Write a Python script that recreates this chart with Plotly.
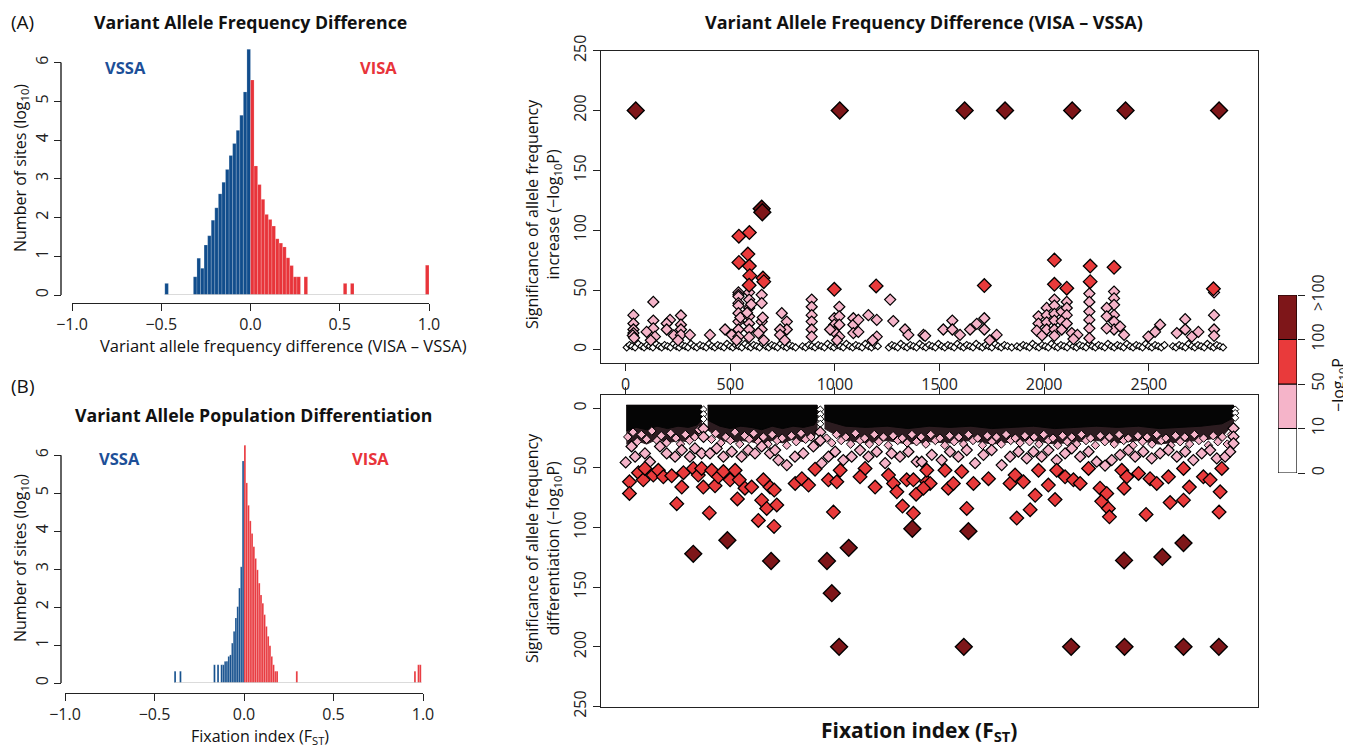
import plotly.graph_objects as go

W, H = 1351, 745
OFF = 8  # page body margin that the browser adds around the figure
def fx(p): return (p - OFF) / W
def fy(p): return 1 - (p - OFF) / H

FONT = "Open Sans"
BLUE = "#114d8c"
RED_BAR = "#e8343a"
DARK = "#7e1619"
RED = "#e93a3b"
PINK = "#f5b4c9"

# ---------------- Histogram A : allele frequency difference ----------------
hist_a_width = 0.02
hist_a_blue_x = [-0.47, -0.31, -0.29, -0.27, -0.25, -0.23, -0.21, -0.19, -0.17,
                 -0.15, -0.13, -0.11, -0.09, -0.07, -0.05, -0.03, -0.01]
hist_a_blue_y = [0.30, 0.47, 0.95, 0.69, 1.29, 1.53, 1.93, 2.25, 2.61,
                 2.91, 3.24, 3.60, 3.91, 4.25, 4.64, 5.24, 6.34]
hist_a_red_x = [0.01, 0.03, 0.05, 0.07, 0.09, 0.11, 0.13, 0.15, 0.17, 0.19,
                0.21, 0.23, 0.25, 0.27, 0.31, 0.53, 0.57, 0.99]
hist_a_red_y = [5.55, 3.33, 2.85, 2.47, 2.08, 1.95, 1.78, 1.45, 1.34, 1.24,
                0.96, 0.76, 0.47, 0.47, 0.47, 0.30, 0.30, 0.77]

# ---------------- Histogram B : fixation index ----------------
hist_b_width = 0.01
hist_b_blue_x = [-0.385, -0.355, -0.165, -0.145, -0.125, -0.115, -0.105, -0.095,
                 -0.085, -0.075, -0.065, -0.055, -0.045, -0.035, -0.025, -0.015, -0.005]
hist_b_blue_y = [0.31, 0.31, 0.48, 0.48, 0.48, 0.48, 0.57, 0.57,
                 0.70, 0.74, 1.05, 1.36, 1.71, 2.01, 2.50, 3.06, 5.85]
hist_b_red_x = [0.005, 0.015, 0.025, 0.035, 0.045, 0.055, 0.065, 0.075, 0.085, 0.095,
                0.105, 0.115, 0.125, 0.135, 0.145, 0.155, 0.165, 0.175, 0.185,
                0.295, 0.955, 0.975, 0.985]
hist_b_red_y = [6.26, 5.27, 4.68, 4.27, 3.94, 3.59, 3.28, 2.98, 2.63, 2.32,
                2.10, 1.80, 1.49, 1.23, 0.98, 0.70, 0.48, 0.31, 0.31,
                0.31, 0.31, 0.48, 0.48]

hist_x_ticks = [-1.0, -0.5, 0.0, 0.5, 1.0]
hist_x_labels = ["\u22121.0", "\u22120.5", "0.0", "0.5", "1.0"]
hist_y_ticks = [0, 1, 2, 3, 4, 5, 6]

# ---------------- Top scatter: significance of increase ----------------
top_dark = [(48, 200), (650, 118), (653, 115), (1023, 200), (1620, 200), (1813, 200),
            (2134, 200), (2389, 200), (2836, 200)]
top_red = [(541, 95), (591, 98), (541, 73), (584, 80), (591, 70), (593, 62), (590, 54),
           (656, 60), (660, 57), (997, 50.6), (1197, 53.4), (1714, 53.7), (2049, 75),
           (2049, 54.8), (2108, 51.5), (2220, 70), (2220, 57), (2334, 69), (2809, 51)]
top_pink = [(37, 29), (37, 22), (37, 17), (37, 14), (34, 12), (40, 10),
            (132, 40), (132, 24.5), (132, 18), (100, 15), (140, 11), (120, 8),
            (212, 25), (196, 22), (196, 17), (230, 12),
            (264, 28.7), (264, 21), (264, 17), (264, 12.5), (250, 8),
            (307, 12.5), (403, 12.5), (475, 17), (507, 12.5),
            (539, 48), (539, 46), (539, 44.5), (539, 39), (539, 37), (539, 30.6),
            (539, 23.6), (539, 17), (539, 11), (548, 27), (530, 8),
            (590, 48), (590, 42), (590, 35), (590, 28), (590, 22), (590, 17),
            (590, 10.6), (600, 38), (580, 31),
            (650, 46), (650, 39), (650, 23.6), (650, 17), (634, 14), (655, 27), (660, 8),
            (746, 30.6), (770, 23.6), (770, 17), (738, 17), (738, 12.5), (760, 8),
            (889, 42), (889, 36), (889, 29), (889, 23.6), (889, 17), (889, 11),
            (997, 26.4), (997, 21), (997, 15), (977, 17), (1021, 36), (1021, 28),
            (1021, 21), (1021, 11), (1010, 8),
            (1088, 26.4), (1088, 21), (1088, 14), (1112, 25), (1112, 15), (1160, 29),
            (1200, 25), (1200, 11), (1180, 8),
            (1264, 42), (1279, 24), (1335, 17), (1351, 12.5), (1423, 12.5),
            (1431, 11.7), (1518, 17), (1561, 24.5), (1561, 17), (1598, 12.5), (1646, 17),
            (1678, 21.7), (1714, 26.4), (1714, 17), (1773, 12.5), (1740, 8),
            (1973, 28), (1973, 22), (1965, 16), (1990, 12), (2012, 35), (2012, 29),
            (2012, 23), (2012, 17), (2049, 42), (2049, 37), (2049, 30), (2049, 24.5),
            (2049, 17), (2049, 11.7), (2084, 32), (2084, 24), (2084, 17), (2108, 40),
            (2108, 35), (2108, 29), (2108, 22), (2132, 14), (2159, 12.5), (2140, 9),
            (2216, 47), (2216, 40), (2216, 32), (2216, 25), (2216, 18), (2216, 9.7),
            (2334, 48.7), (2334, 43), (2334, 37.6), (2334, 29), (2334, 23.6), (2334, 17),
            (2299, 35), (2299, 28), (2299, 18), (2363, 19.5), (2382, 12.5),
            (2498, 11), (2530, 15), (2554, 21), (2634, 14), (2674, 25.6), (2674, 17),
            (2706, 11), (2737, 15), (2812, 48), (2812, 29), (2812, 17), (2812, 11.7)]
top_white = [(5, 2), (18, 4), (30, 3), (45, 2), (60, 5), (75, 3), (88, 2), (102, 4),
             (115, 3), (130, 2), (145, 5), (160, 3), (172, 2), (186, 4), (200, 3),
             (214, 2), (228, 5), (242, 3), (256, 2), (270, 4), (284, 3), (298, 2),
             (312, 5), (326, 3), (340, 2), (355, 4), (370, 3), (385, 2), (398, 5),
             (412, 3), (426, 2), (440, 4), (455, 3), (470, 2), (484, 5), (498, 3),
             (512, 2), (526, 4), (540, 3), (555, 2), (570, 5), (584, 3), (598, 2),
             (612, 4), (626, 3), (640, 2), (655, 5), (670, 3), (684, 2), (698, 4),
             (712, 3), (726, 2), (740, 5), (755, 3), (770, 2), (784, 4), (798, 3),
             (812, 2), (845, 3), (860, 2), (875, 4), (890, 3), (905, 2), (920, 4),
             (935, 3), (950, 2), (965, 5), (980, 3), (995, 2), (1010, 4), (1025, 3),
             (1040, 2), (1055, 5), (1070, 3), (1085, 2), (1100, 4), (1115, 3),
             (1130, 2), (1145, 5), (1160, 3), (1175, 2), (1190, 4), (1205, 3),
             (1258, 2), (1272, 4), (1286, 3), (1300, 2), (1315, 5), (1330, 3),
             (1345, 2), (1360, 4), (1375, 3), (1390, 2), (1405, 5), (1420, 3),
             (1435, 2), (1450, 4), (1465, 3), (1480, 2), (1495, 5), (1510, 3),
             (1525, 2), (1540, 4), (1555, 3), (1570, 2), (1585, 5), (1600, 3),
             (1615, 2), (1630, 4), (1645, 3), (1660, 2), (1675, 5), (1690, 3),
             (1705, 2), (1720, 4), (1735, 3), (1750, 2), (1765, 5), (1780, 3),
             (1795, 2), (1810, 4), (1825, 3), (1845, 2), (1870, 3), (1885, 2),
             (1900, 4), (1915, 3), (1930, 2), (1945, 5), (1960, 3), (1975, 2),
             (1990, 4), (2005, 3), (2020, 2), (2035, 5), (2050, 3), (2065, 2),
             (2080, 4), (2095, 3), (2110, 2), (2125, 5), (2140, 3), (2155, 2),
             (2170, 4), (2185, 3), (2200, 2), (2215, 5), (2230, 3), (2245, 2),
             (2260, 4), (2275, 3), (2290, 2), (2305, 5), (2320, 3), (2335, 2),
             (2350, 4), (2365, 3), (2380, 2), (2395, 5), (2410, 3), (2425, 2),
             (2440, 4), (2455, 3), (2470, 2), (2485, 5), (2500, 3), (2515, 2),
             (2530, 4), (2545, 3), (2560, 2), (2575, 4), (2615, 3), (2630, 2),
             (2645, 4), (2660, 3), (2675, 2), (2690, 5), (2705, 3), (2720, 2),
             (2735, 4), (2750, 3), (2765, 2), (2780, 5), (2795, 3), (2810, 2),
             (2825, 4), (2840, 3), (2855, 2)]

# ---------------- Bottom scatter: significance of differentiation ----------------
bot_dark = [(323, 122), (486, 110.6), (695, 128), (962, 128), (985, 155), (1020, 200),
            (1066, 117), (1370, 101), (1638, 103), (1616, 200), (2129, 200), (2382, 127.5),
            (2384, 200), (2565, 124.6), (2666, 113), (2666, 200), (2835, 200)]
bot_red = [(18, 61.6), (18, 71.4), (61, 54), (84, 60), (92, 50.4), (132, 56), (156, 52),
           (180, 57.4), (220, 56.6), (244, 80), (268, 66), (276, 54), (323, 50.4),
           (347, 56), (363, 50.4), (371, 66), (400, 87.7), (411, 52), (427, 65), (443, 57.4),
           (467, 53), (499, 60), (523, 52), (534, 76), (543, 60), (570, 67), (602, 66),
           (634, 94), (650, 77), (658, 60), (674, 84), (690, 66), (710, 68.6), (722, 81),
           (709, 99), (810, 63), (842, 59), (874, 64.4), (905, 51), (969, 60), (993, 87),
           (1009, 61.6), (1025, 52), (1144, 50.4), (1120, 57.4), (1192, 66), (1256, 56),
           (1280, 63), (1296, 70), (1323, 82), (1343, 60), (1375, 60), (1388, 72),
           (1375, 88), (1439, 61.6), (1439, 52), (1455, 63), (1423, 67), (1526, 52),
           (1542, 67), (1566, 63), (1606, 53), (1630, 84), (1662, 63), (1734, 59),
           (1837, 63), (1861, 56), (1869, 92), (1901, 61.6), (1933, 85), (1957, 73),
           (1973, 52), (2020, 64.4), (2052, 76.5), (2060, 52), (2100, 57.4), (2140, 60),
           (2172, 63), (2212, 50.4), (2267, 67), (2275, 78), (2299, 71.4), (2307, 84),
           (2312, 91), (2371, 52), (2395, 57.4), (2382, 67), (2451, 54.6), (2506, 59),
           (2487, 89), (2538, 63), (2594, 57.4), (2602, 79), (2666, 50.4), (2666, 77),
           (2694, 66), (2761, 57.4), (2793, 60), (2841, 70), (2836, 87), (2849, 50.4)]
bot_pink = [(0, 45.4), (28, 32), (45, 40.6), (92, 37.8), (116, 44.8), (164, 32), (196, 37.8),
            (236, 40.6), (268, 35), (307, 40.6), (331, 33.6), (363, 37.8), (403, 37.8),
            (435, 33.6), (467, 40.6), (507, 36.4), (554, 40.6), (586, 35), (618, 37.8),
            (650, 32), (690, 37.8), (730, 43.4), (770, 47.6), (714, 35), (809, 40.6),
            (849, 37.8), (897, 32), (937, 46), (969, 40.6), (1001, 36.4), (1040, 43.4),
            (1080, 40.6), (1120, 35), (1160, 40.6), (1200, 36.4), (1240, 46), (1271, 37.8),
            (1311, 40.6), (1351, 36.4), (1391, 44.8), (1415, 44.8), (1463, 39), (1510, 43.4),
            (1550, 36.4), (1590, 40.6), (1630, 35), (1670, 46), (1710, 39), (1749, 35),
            (1797, 47.6), (1837, 40.6), (1877, 36.4), (1917, 42), (1949, 36.4), (1988, 40.6),
            (2020, 35), (2060, 43.4), (2100, 37.8), (2132, 33.6), (2172, 40.6), (2212, 36.4),
            (2251, 44.8), (2291, 48), (2323, 43.4), (2363, 39), (2403, 35), (2435, 40.6),
            (2474, 36.4), (2514, 42), (2554, 37.8), (2594, 35), (2634, 40.6), (2674, 36.4),
            (2713, 43.4), (2753, 37.8), (2793, 35), (2825, 42), (2865, 40.6), (2889, 36.4),
            (2905, 16.8), (2905, 23.8), (2905, 29.4), (372, 17), (372, 24), (930, 20),
            (930, 27)]
bot_pink_small = [(10, 24), (35, 20), (55, 28), (75, 22), (100, 26), (125, 19), (150, 27),
                  (170, 23), (195, 29), (215, 21), (240, 25), (262, 30), (285, 22), (305, 27),
                  (330, 24), (350, 18), (410, 26), (430, 21), (455, 29), (478, 24), (500, 27),
                  (522, 20), (545, 30), (568, 23), (590, 26), (612, 21), (635, 28), (658, 24),
                  (680, 30), (700, 22), (724, 27), (748, 25), (770, 31), (792, 23), (815, 28),
                  (838, 21), (860, 26), (885, 24), (905, 29), (960, 25), (985, 29), (1008, 22),
                  (1030, 27), (1052, 24), (1075, 30), (1098, 21), (1120, 27), (1142, 25),
                  (1165, 30), (1188, 22), (1210, 28), (1232, 24), (1255, 31), (1278, 23),
                  (1300, 27), (1322, 25), (1345, 29), (1368, 22), (1390, 28), (1412, 24),
                  (1435, 30), (1458, 22), (1480, 27), (1502, 25), (1525, 31), (1548, 23),
                  (1570, 28), (1592, 24), (1615, 30), (1638, 22), (1660, 27), (1682, 25),
                  (1705, 31), (1728, 23), (1750, 28), (1772, 24), (1795, 30), (1818, 22),
                  (1840, 27), (1862, 25), (1885, 29), (1908, 23), (1930, 28), (1952, 24),
                  (1975, 30), (1998, 22), (2020, 27), (2042, 25), (2065, 31), (2088, 23),
                  (2110, 28), (2132, 24), (2155, 30), (2178, 22), (2200, 27), (2222, 25),
                  (2245, 31), (2268, 23), (2290, 28), (2312, 24), (2335, 30), (2358, 22),
                  (2380, 27), (2402, 25), (2425, 31), (2448, 23), (2470, 28), (2492, 24),
                  (2515, 30), (2538, 22), (2560, 27), (2582, 25), (2605, 31), (2628, 23),
                  (2650, 28), (2672, 24), (2695, 30), (2718, 22), (2740, 27), (2762, 25),
                  (2785, 31), (2808, 23), (2830, 28), (2852, 24), (2875, 30), (2895, 22)]
bot_white = [(372, 1), (372, 5), (372, 9), (930, 1), (930, 5), (930, 9), (930, 13),
             (2913, 1), (2913, 4), (2913, 8)]

# dense band of overlapping points (upper edge / lower edges of black and mottled zones)
band_top = -2.5
band_segments_x = [[3, 50, 100, 150, 200, 250, 300, 340, 362],
                   [392, 450, 500, 550, 600, 650, 700, 750, 800, 850, 900, 915],
                   [950, 1050, 1150, 1250, 1350, 1450, 1550, 1650, 1750, 1850, 1950,
                    2050, 2150, 2250, 2350, 2450, 2550, 2650, 2750, 2850, 2905]]
band_black_depth = [[19, 16, 18, 15, 17, 15, 16, 14, 10],
                    [10, 15, 17, 15, 16, 18, 15, 17, 15, 16, 14, 10],
                    [10, 15, 16, 15, 17, 15, 16, 15, 17, 16, 15, 17, 16, 15, 16,
                     15, 17, 16, 15, 13, 8]]
band_mottle_depth = [[30, 27, 30, 26, 29, 27, 28, 25, 18],
                     [18, 26, 29, 27, 28, 30, 27, 29, 26, 28, 25, 17],
                     [17, 27, 29, 27, 30, 28, 29, 27, 30, 28, 27, 30, 28, 27, 29,
                      27, 30, 28, 27, 24, 13]]

scatter_x_ticks = [0, 500, 1000, 1500, 2000, 2500]
scatter_y_ticks = [0, 50, 100, 150, 200, 250]

# colour key
cbar_colors = ["#ffffff", PINK, RED, DARK]
cbar_labels = ["0", "10", "50", "100", ">100"]

# ---------------- figure ----------------
fig = go.Figure()

def add_hist(xs, ys, w, color, xa, ya):
    fig.add_trace(go.Bar(x=xs, y=ys, width=[w] * len(xs), marker=dict(color=color,
                  line=dict(color="rgba(255,255,255,0.35)", width=0.5)),
                  xaxis=xa, yaxis=ya, showlegend=False, hoverinfo="skip"))

def add_baseline(xs_list, w, xa, ya):
    lo = min(min(xs) for xs in xs_list) - w / 2
    hi = max(max(xs) for xs in xs_list) + w / 2
    fig.add_trace(go.Scatter(x=[lo, hi], y=[0, 0], mode="lines",
                             line=dict(color="#cfcfcf", width=1.6),
                             xaxis=xa, yaxis=ya, showlegend=False, hoverinfo="skip"))

add_baseline([hist_a_blue_x, hist_a_red_x], hist_a_width, "x", "y")
add_hist(hist_a_blue_x, hist_a_blue_y, hist_a_width, BLUE, "x", "y")
add_hist(hist_a_red_x, hist_a_red_y, hist_a_width, RED_BAR, "x", "y")
add_baseline([hist_b_blue_x, hist_b_red_x], hist_b_width, "x2", "y2")
add_hist(hist_b_blue_x, hist_b_blue_y, hist_b_width, BLUE, "x2", "y2")
add_hist(hist_b_red_x, hist_b_red_y, hist_b_width, RED_BAR, "x2", "y2")

def add_pts(pts, color, size, lw, xa, ya):
    fig.add_trace(go.Scatter(x=[p[0] for p in pts], y=[p[1] for p in pts], mode="markers",
                             marker=dict(symbol="diamond", size=size, color=color,
                                         line=dict(color="black", width=lw)),
                             xaxis=xa, yaxis=ya, showlegend=False, hoverinfo="skip"))

# top scatter
add_pts(top_white, "white", 5.5, 1.1, "x3", "y3")
add_pts(top_pink, PINK, 8.5, 1.2, "x3", "y3")
add_pts(top_red, RED, 10.5, 1.3, "x3", "y3")
add_pts(top_dark, DARK, 13, 1.4, "x3", "y3")

# bottom scatter: dense band as areas
for depth_list, col in [(band_mottle_depth, "#2c1c20"), (band_black_depth, "#050505")]:
    for xs, ds in zip(band_segments_x, depth_list):
        fig.add_trace(go.Scatter(x=xs + xs[::-1], y=[band_top] * len(xs) + ds[::-1],
                                 mode="lines", fill="toself", fillcolor=col,
                                 line=dict(color=col, width=1),
                                 xaxis="x4", yaxis="y4", showlegend=False, hoverinfo="skip"))
add_pts(bot_pink_small, PINK, 6.5, 1.0, "x4", "y4")
add_pts(bot_white, "white", 5.5, 1.0, "x4", "y4")
add_pts(bot_pink, PINK, 8.5, 1.2, "x4", "y4")
add_pts(bot_red, RED, 10.5, 1.3, "x4", "y4")
add_pts(bot_dark, DARK, 13, 1.4, "x4", "y4")

# colour key
for i, c in enumerate(cbar_colors):
    fig.add_trace(go.Bar(x=[0], y=[1], base=[i], width=[1], marker=dict(color=c,
                  line=dict(color="black", width=1.2)), xaxis="x5", yaxis="y5",
                  showlegend=False, hoverinfo="skip"))

tickfont = dict(family=FONT, size=16, color="#222")
common = dict(showgrid=False, zeroline=False, ticks="outside", ticklen=7, tickwidth=1.3,
              tickcolor="#222", tickfont=tickfont, automargin=False)

layout = dict(
    width=W, height=H, autosize=False, margin=dict(l=0, r=0, t=0, b=0, autoexpand=False),
    paper_bgcolor="white", plot_bgcolor="white", barmode="overlay", showlegend=False,
    font=dict(family=FONT, color="#222"),
    xaxis=dict(domain=[fx(72), fx(429)], range=[-1, 1], anchor="free", position=fy(303),
               showline=True, linecolor="#222", linewidth=1.4, tickvals=hist_x_ticks,
               ticktext=hist_x_labels, **common),
    yaxis=dict(domain=[fy(295), fy(47)], range=[0, 6.4], anchor="free", position=fx(61),
               showline=False, tickvals=hist_y_ticks, tickangle=-90, **common),
    xaxis2=dict(domain=[fx(65), fx(423)], range=[-1, 1], anchor="free", position=fy(693),
                showline=True, linecolor="#222", linewidth=1.4, tickvals=hist_x_ticks,
                ticktext=hist_x_labels, **common),
    yaxis2=dict(domain=[fy(683), fy(440)], range=[0, 6.4], anchor="free", position=fx(61),
                showline=False, tickvals=hist_y_ticks, tickangle=-90, **common),
    xaxis3=dict(domain=[fx(601), fx(1258)], range=[-118, 3022], anchor="y3",
                showline=True, mirror=True, linecolor="#222", linewidth=1.4,
                tickvals=scatter_x_ticks, **common),
    yaxis3=dict(domain=[fy(363), fy(50.7)], range=[-11, 250], anchor="x3",
                showline=True, mirror=True, linecolor="#222", linewidth=1.4,
                tickvals=scatter_y_ticks, tickangle=-90, **common),
    xaxis4=dict(domain=[fx(601), fx(1258)], range=[-118, 3022], anchor="y4", side="top",
                showline=True, mirror=True, linecolor="#222", linewidth=1.4,
                tickvals=scatter_x_ticks, showticklabels=False, **common),
    yaxis4=dict(domain=[fy(706.5), fy(394.7)], range=[250, -11.4], anchor="x4",
                showline=True, mirror=True, linecolor="#222", linewidth=1.4,
                tickvals=scatter_y_ticks, tickangle=-90, **common),
    xaxis5=dict(domain=[fx(1278), fx(1297)], range=[-0.5, 0.5], anchor="y5", visible=False,
                automargin=False),
    yaxis5=dict(domain=[fy(473), fy(295)], range=[0, 4], anchor="x5", side="right",
                showline=False, tickvals=list(range(len(cbar_labels))), ticktext=cbar_labels,
                tickangle=-90, **common),
)
fig.update_layout(**layout)

# y-axis lines of histograms (R style, from first to last tick)
for ya in ["y", "y2"]:
    fig.add_shape(type="line", xref="paper", yref=ya, x0=fx(61), x1=fx(61),
                  y0=min(hist_y_ticks), y1=max(hist_y_ticks), line=dict(color="#222", width=1.4))

def txt(x, y, s, size, bold=False, color="#111", angle=0, xanchor="center"):
    if bold:
        s = "<b>" + s + "</b>"
    fig.add_annotation(x=fx(x), y=fy(y), xref="paper", yref="paper", text=s, showarrow=False,
                       font=dict(family=FONT, size=size, color=color), textangle=angle,
                       xanchor=xanchor, yanchor="middle")

txt(9, 22, "(A)", 19, xanchor="left")
txt(9, 386, "(B)", 19, xanchor="left")
txt(250, 22, "Variant Allele Frequency Difference", 17.7, bold=True)
txt(253, 415, "Variant Allele Population Differentiation", 17.7, bold=True)
txt(924, 22, "Variant Allele Frequency Difference (VISA \u2013 VSSA)", 18, bold=True)
txt(125, 68, "VSSA", 16.5, bold=True, color="#1d4f98")
txt(378, 68, "VISA", 16.5, bold=True, color=RED_BAR)
txt(119, 458, "VSSA", 16.5, bold=True, color="#1d4f98")
txt(370, 458, "VISA", 16.5, bold=True, color=RED_BAR)
txt(283, 345, "Variant allele frequency difference (VISA \u2013 VSSA)", 16.5)
txt(260, 736, "Fixation index (F<sub>ST</sub>)", 16)
txt(20, 168, "Number of sites (log<sub>10</sub>)", 16, angle=-90)
txt(20, 558, "Number of sites (log<sub>10</sub>)", 16, angle=-90)
txt(543, 214, "Significance of allele frequency<br>increase (\u2212log<sub>10</sub>P)", 16, angle=-90)
txt(543, 548, "Significance of allele frequency<br>differentiation (\u2212log<sub>10</sub>P)", 16, angle=-90)
txt(919, 731, "Fixation index (F<sub>ST</sub>)", 21, bold=True)
txt(1338, 385, "\u2212log<sub>10</sub>P", 16, angle=-90)

fig.write_html("out.html")
